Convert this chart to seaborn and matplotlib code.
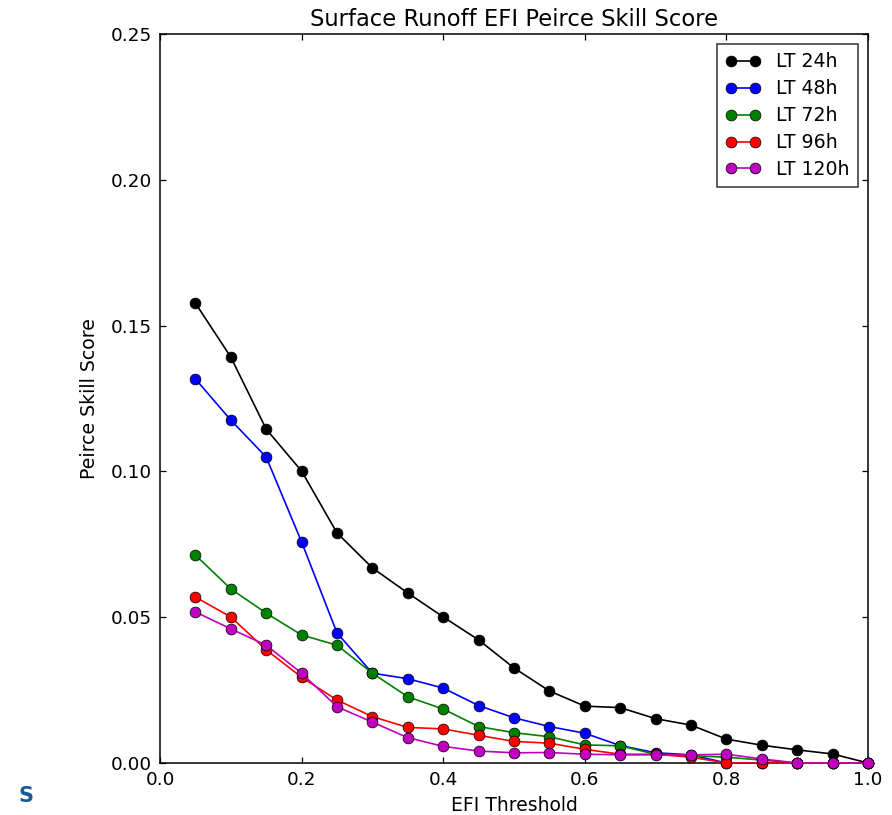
import numpy as np
import pandas as pd
import matplotlib
matplotlib.use("Agg")
import matplotlib.pyplot as plt
import seaborn as sns

# EFI thresholds and Peirce skill score per lead time
thresholds = [0.05, 0.10, 0.15, 0.20, 0.25, 0.30, 0.35, 0.40, 0.45, 0.50,
              0.55, 0.60, 0.65, 0.70, 0.75, 0.80, 0.85, 0.90, 0.95, 1.00]

lt24 = [0.1577, 0.1392, 0.1145, 0.1001, 0.0789, 0.0669, 0.0583, 0.0501, 0.0422, 0.0326,
        0.0247, 0.0195, 0.0190, 0.0152, 0.0130, 0.0082, 0.0061, 0.0045, 0.0031, 0.0000]
lt48 = [0.1317, 0.1176, 0.1049, 0.0758, 0.0446, 0.0308, 0.0289, 0.0257, 0.0197, 0.0155,
        0.0125, 0.0102, 0.0060, 0.0035, 0.0028, 0.0000, 0.0000, 0.0000, 0.0000, 0.0000]
lt72 = [0.0713, 0.0597, 0.0514, 0.0439, 0.0404, 0.0308, 0.0227, 0.0185, 0.0125, 0.0104,
        0.0090, 0.0062, 0.0059, 0.0030, 0.0025, 0.0020, 0.0010, 0.0000, 0.0000, 0.0000]
lt96 = [0.0569, 0.0501, 0.0388, 0.0294, 0.0216, 0.0159, 0.0122, 0.0117, 0.0095, 0.0074,
        0.0068, 0.0047, 0.0030, 0.0030, 0.0020, 0.0000, 0.0000, 0.0000, 0.0000, 0.0000]
lt120 = [0.0518, 0.0460, 0.0404, 0.0308, 0.0193, 0.0140, 0.0087, 0.0057, 0.0041, 0.0035,
         0.0036, 0.0030, 0.0028, 0.0028, 0.0028, 0.0030, 0.0014, 0.0000, 0.0000, 0.0000]

series_labels = ["LT 24h", "LT 48h", "LT 72h", "LT 96h", "LT 120h"]
series_values = [lt24, lt48, lt72, lt96, lt120]
series_colors = ["black", "blue", "green", "red", "m"]

x_ticks = [0.0, 0.2, 0.4, 0.6, 0.8, 1.0]
y_ticks = [0.00, 0.05, 0.10, 0.15, 0.20, 0.25]

sns.set_style("ticks")
plt.rcParams["font.family"] = ["DejaVu Sans"]
plt.rcParams.update({
    "xtick.direction": "in",
    "ytick.direction": "in",
    "xtick.top": True,
    "ytick.right": True,
    "xtick.major.size": 4.5,
    "ytick.major.size": 4.5,
    "axes.linewidth": 1.1,
    "axes.edgecolor": "black",
    "text.color": "black",
    "axes.labelcolor": "black",
    "xtick.color": "black",
    "ytick.color": "black",
})

frames = []
for lab, vals in zip(series_labels, series_values):
    frames.append(pd.DataFrame({"threshold": thresholds, "pss": vals, "lead": lab}))
df = pd.concat(frames, ignore_index=True)

fig = plt.figure(figsize=(8.92, 8.15), dpi=100)
ax = fig.add_axes([160 / 892, 1 - 763 / 815, 708 / 892, 729 / 815])

for lab, col in zip(series_labels, series_colors):
    sub = df[df["lead"] == lab]
    sns.lineplot(data=sub, x="threshold", y="pss", ax=ax, color=col, marker="o",
                 markersize=7.8, markeredgecolor="black", markeredgewidth=0.5,
                 linewidth=1.2, label=lab, clip_on=False, zorder=3, legend=False)

ax.set_xlim(0, 1.0)
ax.set_ylim(0, 0.25)
ax.set_xticks(x_ticks)
ax.set_yticks(y_ticks)
ax.set_xticklabels([f"{t:.1f}" for t in x_ticks], fontsize=13.3)
ax.set_yticklabels([f"{t:.2f}" for t in y_ticks], fontsize=13.3)
ax.tick_params(axis="both", which="major", pad=6, width=0.9)
ax.set_xlabel("EFI Threshold", fontsize=13.5, labelpad=5)
ax.set_ylabel("Peirce Skill Score", fontsize=13.6, labelpad=8)
ax.set_title("Surface Runoff EFI Peirce Skill Score", fontsize=16.3, pad=6)

handles = ax.get_lines()[:len(series_labels)]
leg = ax.legend(handles, series_labels, loc="upper right", numpoints=2,
                fontsize=13.6, frameon=True, fancybox=False, borderaxespad=0.55,
                handlelength=1.9, handletextpad=0.8, labelspacing=0.42,
                borderpad=0.42)
leg.get_frame().set_edgecolor("black")
leg.get_frame().set_linewidth(1.1)

fig.text(18 / 892, 1 - 796 / 815, "S", color="#1a5a96", fontsize=15,
         fontweight="bold", ha="left", va="center")

fig.savefig("out.png", dpi=100, facecolor="white")
